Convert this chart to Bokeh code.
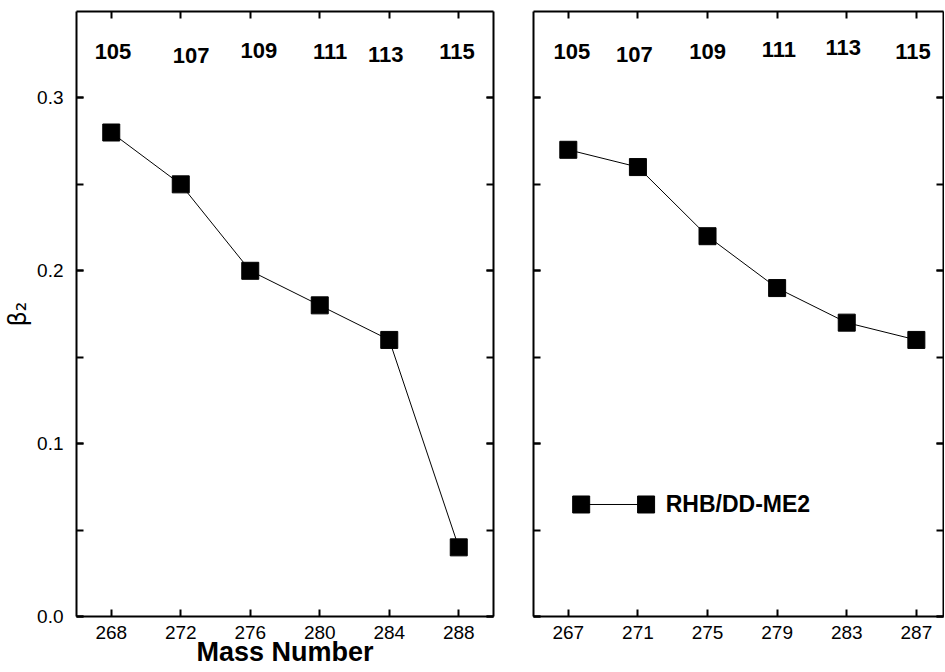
from bokeh.plotting import figure
from bokeh.models import (LinearAxis, FixedTicker, SingleIntervalTicker, Range1d,
                          ColumnDataSource, PrintfTickFormatter, CustomJSTickFormatter)
from bokeh.layouts import row
from bokeh.core.properties import value
from bokeh.embed import file_html
from bokeh.resources import INLINE

# ---- data ----
mass_left = [268, 272, 276, 280, 284, 288]
beta2_left = [0.28, 0.25, 0.20, 0.18, 0.16, 0.04]
mass_right = [267, 271, 275, 279, 283, 287]
beta2_right = [0.27, 0.26, 0.22, 0.19, 0.17, 0.16]

z_labels = ["105", "107", "109", "111", "113", "115"]
z_x_left = [268.1, 272.6, 276.5, 280.6, 283.8, 287.9]
z_y_left = [0.327, 0.3245, 0.3274, 0.3269, 0.3251, 0.327]
z_x_right = [267.2, 270.8, 275.0, 279.1, 282.8, 286.8]
z_y_right = [0.327, 0.3252, 0.3269, 0.3279, 0.3289, 0.3269]

legend_label = "RHB/DD-ME2"

FONT = "Liberation Sans"
TICK_FS = "19px"


def style_axis(ax, show_labels, is_y):
    ax.axis_line_width = 2
    ax.axis_line_color = "black"
    ax.major_tick_in = 7
    ax.major_tick_out = 0
    ax.major_tick_line_width = 2
    ax.major_tick_line_color = "black"
    ax.minor_tick_in = 7 if is_y else 0
    ax.minor_tick_out = 0
    ax.minor_tick_line_width = 2
    ax.minor_tick_line_color = "black" if is_y else None
    ax.major_label_text_font = FONT
    if show_labels:
        ax.major_label_text_color = "black"
        ax.major_label_text_font_size = TICK_FS
        ax.major_label_standoff = 13 if is_y else 9
        if is_y:
            ax.formatter = PrintfTickFormatter(format="%.1f")
    else:
        ax.formatter = CustomJSTickFormatter(code="return '';")
        ax.major_label_text_color = None
        ax.major_label_text_font_size = "0px"
        ax.major_label_standoff = 0


def make_panel(xs, ys, x_start, x_end, xticks, frame_w, border_l, border_r,
               left_labels, zx, zy, xlabel=None, ylabel=None):
    p = figure(output_backend="svg", toolbar_location=None,
               frame_width=frame_w, frame_height=605,
               min_border_left=border_l, min_border_right=border_r,
               min_border_top=11, min_border_bottom=56,
               x_range=Range1d(x_start, x_end), y_range=Range1d(0, 0.35),
               x_axis_location=None, y_axis_location=None)
    p.xgrid.visible = False
    p.ygrid.visible = False
    p.outline_line_color = None
    p.background_fill_color = "white"
    p.border_fill_color = "white"

    xb = LinearAxis(ticker=FixedTicker(ticks=xticks))
    style_axis(xb, True, False)
    if xlabel:
        xb.axis_label = xlabel
        xb.axis_label_text_font = FONT
        xb.axis_label_text_font_style = "bold"
        xb.axis_label_text_font_size = "27px"
        xb.axis_label_text_color = "black"
        xb.axis_label_standoff = -5
    p.add_layout(xb, "below")
    xt = LinearAxis(ticker=FixedTicker(ticks=xticks))
    style_axis(xt, False, False)
    p.add_layout(xt, "above")

    yl = LinearAxis(ticker=SingleIntervalTicker(interval=0.1, num_minor_ticks=2))
    style_axis(yl, left_labels, True)
    if ylabel:
        yl.axis_label = ylabel
        yl.axis_label_text_font = "DejaVu Sans"
        yl.axis_label_text_font_style = "normal"
        yl.axis_label_text_font_size = "24px"
        yl.axis_label_text_color = "black"
        yl.axis_label_standoff = 2
    p.add_layout(yl, "left")
    yr = LinearAxis(ticker=SingleIntervalTicker(interval=0.1, num_minor_ticks=2))
    style_axis(yr, False, True)
    p.add_layout(yr, "right")

    src = ColumnDataSource(dict(x=xs, y=ys))
    p.line("x", "y", source=src, line_color="black", line_width=1)
    p.scatter("x", "y", source=src, marker="square", size=17,
              fill_color="black", line_color="black")

    zsrc = ColumnDataSource(dict(x=zx, y=zy, t=z_labels))
    p.text("x", "y", text="t", source=zsrc, text_font=value(FONT),
           text_font_style="bold", text_font_size="22px",
           text_align="center", text_baseline="middle", text_color="black")
    return p


p1 = make_panel(mass_left, beta2_left, 266, 290, mass_left, 417, 76, 18,
                True, z_x_left, z_y_left, xlabel="Mass Number", ylabel="β₂")
p2 = make_panel(mass_right, beta2_right, 265, 288.56, mass_right, 410, 22, 1,
                False, z_x_right, z_y_right)

# legend drawn inside the right panel
leg_y = 0.0648
leg_x0, leg_x1, leg_tx = 267.74, 271.47, 272.6
p2.line([leg_x0, leg_x1], [leg_y, leg_y], line_color="black", line_width=1)
p2.scatter([leg_x0, leg_x1], [leg_y, leg_y], marker="square", size=17,
           fill_color="black", line_color="black")
p2.text([leg_tx], [leg_y], text=[legend_label], text_font=value(FONT),
        text_font_style="bold", text_font_size="23px",
        text_align="left", text_baseline="middle", text_color="black")

layout = row(p1, p2)
open("out.html", "w").write(file_html(layout, INLINE))
